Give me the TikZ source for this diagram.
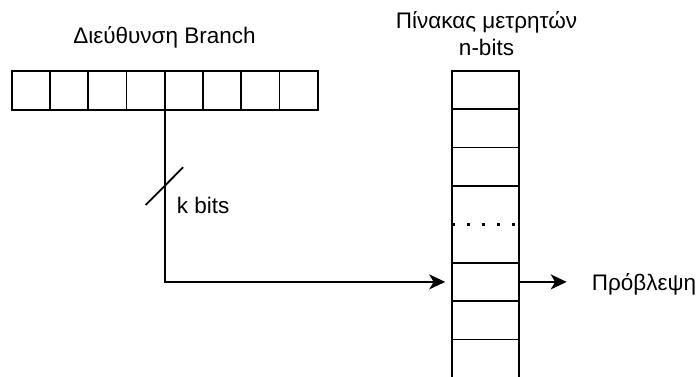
\documentclass[tikz,border=0pt]{standalone}
\usepackage{fontspec}
\setmainfont{Liberation Sans}
\usetikzlibrary{arrows.meta,calc}
\begin{document}
\begin{tikzpicture}[x=1pt,y=-1pt,line width=1.8pt,
  txt/.style={font=\fontsize{22.5}{27}\selectfont,inner sep=0pt,anchor=base},
  bitcell/.style={draw,line width=1.8pt,minimum width=38.25pt,minimum height=39.3pt,inner sep=0pt,outer sep=0pt},
  ctrcell/.style={minimum width=67.3pt,minimum height=38.4pt,inner sep=0pt,outer sep=0pt},
  arr/.style={-{Stealth[length=16pt,width=15pt,inset=4.5pt]},line width=1.8pt},
  dotline/.style={line width=2.8pt,dash pattern=on 3pt off 12pt}]
\useasboundingbox (0,0) rectangle (697,376);
\clip (0,0) rectangle (697,376);

% branch address register: 8 bit cells
\foreach \i in {1,...,8}
  \node[bitcell] (b\i) at ({11.7+38.25*(\i-0.5)},90.35) {};
\node[txt] (addr) at (164.5,43.3) {Διεύθυνση Branch};

% counter table: 8 rows, bottom row runs off the page
\foreach \i in {1,...,8}
  \node[ctrcell] (c\i) at (485.35,{70.7+38.4*(\i-0.5)}) {};
\draw (c1.north west) rectangle (c8.south east);
\foreach \i in {1,2,3,5,6,7}
  \draw (c\i.south west) -- (c\i.south east);
\draw[dotline] (c4.south west) -- (c4.south east);
\node[txt] (tab1) at (486.5,28) {Πίνακας μετρητών};
\node[txt] (tab2) at (486.5,55) {n-bits};

% index bits into the table
\draw[arr,shorten >=6.5pt] (b4.south east) |- (c6.west);
\coordinate (k) at ($(b4.south east)+(0,76)$);
\draw ($(k)+(-19,19)$) -- ($(k)+(18.5,-18.8)$);
\node[txt,anchor=base west] (kb) at (176,213.3) {k bits};

% prediction output
\coordinate (ptip) at ($(c6.east)+(47.7,0)$);
\draw[arr] (c6.east) -- (ptip);
\node[txt,anchor=base west] (pred) at (591,290.7) {Πρόβλεψη};
\end{tikzpicture}
\end{document}
